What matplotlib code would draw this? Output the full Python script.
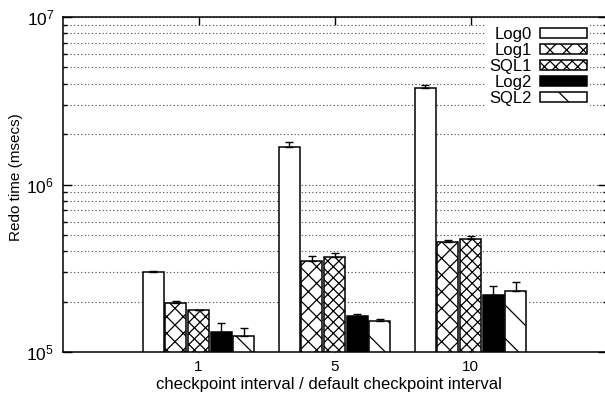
import matplotlib
matplotlib.use("Agg")
import matplotlib.pyplot as plt
import numpy as np
from matplotlib.ticker import LogLocator, NullFormatter, FixedLocator

plt.rcParams['font.family'] = ['Liberation Sans', 'DejaVu Sans']
plt.rcParams['mathtext.fontset'] = 'custom'
plt.rcParams['mathtext.rm'] = 'Liberation Sans'
plt.rcParams['mathtext.it'] = 'Liberation Sans'
plt.rcParams['hatch.linewidth'] = 0.9

categories = ["1", "5", "10"]
series_names = ["Log0", "Log1", "SQL1", "Log2", "SQL2"]
log0 = [3.02e5, 1.67e6, 3.78e6]
log1 = [1.96e5, 3.48e5, 4.52e5]
sql1 = [1.79e5, 3.68e5, 4.75e5]
log2 = [1.32e5, 1.63e5, 2.19e5]
sql2 = [1.24e5, 1.53e5, 2.31e5]
log0_err = [0.01e5, 1.2e5, 1.6e5]
log1_err = [0.06e5, 0.25e5, 0.16e5]
sql1_err = [0.0, 0.23e5, 0.20e5]
log2_err = [0.17e5, 0.05e5, 0.30e5]
sql2_err = [0.16e5, 0.04e5, 0.32e5]

values = [log0, log1, sql1, log2, sql2]
errors = [log0_err, log1_err, sql1_err, log2_err, sql2_err]
facecolors = ["white", "white", "white", "black", "white"]
hatches = [None, "xx", "xxx", None, "\\"]

fig = plt.figure(figsize=(6.05, 4.04), dpi=100)
ax = fig.add_axes([62.5/605, 52/404, 544/605, 335/404])

x = np.arange(len(categories))
pitch = 0.167
width = 0.155
FS = 10.5
base = 0.995e5
for k, (vals, errs) in enumerate(zip(values, errors)):
    pos = x + (k - 2) * pitch
    vals = np.asarray(vals)
    ax.bar(pos, vals - base, width, bottom=base, facecolor=facecolors[k], edgecolor="black",
           linewidth=1.1, hatch=hatches[k], label=series_names[k], zorder=3)
    ax.errorbar(pos, vals, yerr=[np.zeros(len(errs)), errs], fmt="none", ecolor="black",
                elinewidth=1.0, capsize=3, capthick=1.0, zorder=4)

ax.set_yscale("log")
ax.set_ylim(1e5, 1e7)
ax.set_xlim(-1, 3)
ax.set_xticks(x)
ax.set_xticklabels(categories, fontsize=11)
ax.yaxis.set_major_locator(FixedLocator([1e5, 1e6, 1e7]))
ax.yaxis.set_minor_locator(LogLocator(base=10, subs=np.arange(2, 10)))
ax.yaxis.set_minor_formatter(NullFormatter())
ax.set_yticklabels([r"$10^{5}$", r"$10^{6}$", r"$10^{7}$"], fontsize=FS + 2)

ax.tick_params(axis="both", which="both", direction="in", top=True, right=True, width=1.0)
ax.tick_params(axis="y", which="major", length=6.5, pad=6)
ax.tick_params(axis="y", which="minor", length=3.2)
ax.tick_params(axis="x", which="major", length=6, pad=6)
ax.tick_params(axis="x", which="minor", top=False, bottom=False)

ax.set_axisbelow(True)
ax.grid(True, axis="y", which="both", color="#444444", linestyle=(0, (1, 2.2)), linewidth=0.8)

for s in ax.spines.values():
    s.set_linewidth(1.1)

fig.text(329/605, 1 - 384/404, "checkpoint interval / default checkpoint interval",
         fontsize=12, ha="center", va="center")
fig.text(16/605, 1 - 177/404, "Redo time (msecs)", fontsize=11, rotation=90,
         ha="center", va="center")

leg = ax.legend(loc="upper right", bbox_to_anchor=(590/605, (404-24)/404), bbox_transform=fig.transFigure,
                markerfirst=False, frameon=True, fancybox=False, edgecolor="none", framealpha=1,
                fontsize=FS + 1.5, handlelength=2.8, handleheight=0.55, handletextpad=0.5,
                labelspacing=0.05, borderpad=0.2, borderaxespad=0)
for t in leg.get_texts():
    t.set_ha("right")
leg.set_zorder(5)

fig.savefig("out.png", dpi=100)
